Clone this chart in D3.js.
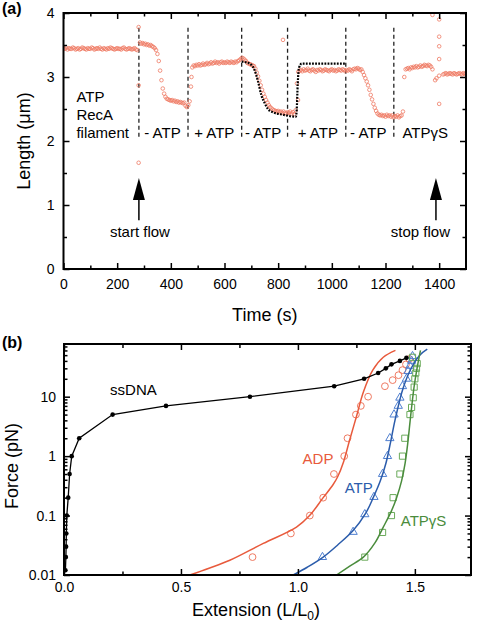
<!DOCTYPE html>
<html><head><meta charset="utf-8">
<script src="https://cdn.jsdelivr.net/npm/d3@7"></script>
<style>
body{margin:0;background:#fff}
text{font-family:"Liberation Sans",Arial,Helvetica,sans-serif}
</style>
</head><body>
<svg id="c" width="477" height="626"></svg>
<script>
// ---------------- Panel (a) data ----------------
const timeStep = 5; // seconds between samples, t = 0 ... 1500
const lengthValues = [
 // 0-245
 3.45,3.44,3.46,3.43,3.45,3.44,3.44,3.46,3.45,3.43,
 3.44,3.45,3.43,3.44,3.46,3.45,3.44,3.43,3.45,3.44,
 3.44,3.46,3.45,3.43,3.44,3.45,3.44,3.46,3.44,3.43,
 3.45,3.44,3.43,3.45,3.44,3.46,3.45,3.44,3.43,3.44,
 3.45,3.44,3.44,3.43,3.45,3.46,3.44,3.43,3.44,3.45,
 // 250-275
 3.44,3.43,3.44,3.45,3.43,3.42,
 // 280
 null,
 // 285-345
 3.54,3.52,3.53,3.51,3.52,3.50,3.51,3.49,3.50,3.48,3.47,3.45,3.42,
 // 350-470
 3.36,3.25,3.10,2.95,2.82,2.74,2.69,2.66,2.65,2.64,2.63,2.64,2.62,2.63,2.61,2.62,2.60,2.61,2.60,2.59,2.60,2.55,2.53,2.56,2.62,
 // 475-480
 2.85,3.15,
 // 485-660
 3.18,3.17,3.19,3.18,3.20,3.18,3.19,3.21,3.19,3.20,
 3.22,3.20,3.21,3.23,3.21,3.22,3.24,3.22,3.23,3.21,
 3.23,3.24,3.22,3.23,3.22,3.24,3.23,3.22,3.24,3.23,
 3.22,3.24,3.23,3.25,3.26,3.28,
 // 665-835
 3.30,3.29,3.27,3.25,3.22,3.21,3.20,3.19,3.18,3.17,
 3.13,3.07,3.01,2.94,2.87,2.80,2.74,2.69,2.64,2.60,
 2.56,2.53,2.51,2.49,2.48,2.47,2.46,2.47,2.45,2.46,
 2.44,2.46,2.44,2.43,2.45,
 // 840-875
 2.44,2.46,2.43,2.45,2.42,2.48,2.90,3.08,
 // 880-1050
 3.10,3.11,3.09,3.12,3.10,3.11,3.13,3.10,3.09,3.11,
 3.12,3.10,3.08,3.11,3.10,3.12,3.11,3.09,3.10,3.12,
 3.11,3.10,3.09,3.11,3.12,3.10,3.11,3.09,3.10,3.12,
 3.11,3.10,3.12,3.11,3.09,
 // 1055-1265
 3.11,3.10,3.12,3.11,3.09,3.12,3.13,3.12,3.14,3.13,
 3.11,3.12,3.08,3.03,2.98,2.93,2.87,2.80,2.72,2.65,
 2.58,2.52,2.47,2.43,2.41,2.40,2.41,2.39,2.40,2.38,
 2.41,2.39,2.40,2.38,2.40,2.37,2.39,2.38,2.40,2.37,
 2.39,2.40,2.46,
 // 1270-1375
 3.00,3.12,3.13,3.14,3.12,3.15,3.14,3.16,3.15,3.17,
 3.15,3.16,3.18,3.16,3.17,3.19,3.18,3.17,3.19,3.18,
 3.16,3.12,
 // 1380-1410
 null,2.95,2.98,null,null,null,null,
 // 1415-1500
 3.04,3.05,3.06,3.04,3.05,3.06,3.05,3.04,3.06,3.05,3.04,3.05,3.06,3.05,3.04,3.06,3.05,3.05
];
const outlierTimes   = [280, 280, 280, 477, 818, 874, 1375, 1400, 1400, 1400, 1400, 1400, 1400];
const outlierLengths = [3.78, 2.87, 1.66, 3.00, 3.58, 2.64, 3.97, 3.90, 3.63, 3.48, 3.28, 3.02, 2.58];

const fitTimes   = [664, 680, 700, 712, 725, 737, 750, 762, 780, 818, 866, 869, 873, 878, 888, 1052];
const fitLengths = [3.24, 3.23, 3.19, 3.11, 2.93, 2.72, 2.59, 2.50, 2.45, 2.41, 2.38, 2.48, 2.90, 3.15, 3.21, 3.21];

const bufferChangeTimes = [281, 464, 664, 835, 1052, 1231];
const bufferLabels = ["- ATP", "+ ATP", "- ATP", "+ ATP", "- ATP", "ATP\u03B3S"];
const filamentLabel = ["ATP", "RecA", "filament"];
const flowEventTimes = [281, 1388];
const flowEventLabels = ["start flow", "stop flow"];

const timeTicks = [0, 200, 400, 600, 800, 1000, 1200, 1400];
const timeMinorTicks = [100, 300, 500, 700, 900, 1100, 1300];
const lengthTicks = [0, 1, 2, 3, 4];
const lengthMinorTicks = [0.5, 1.5, 2.5, 3.5];

// ---------------- Panel (b) data ----------------
const ssdnaExt   = [0.006, 0.008, 0.009, 0.010, 0.012, 0.018, 0.024, 0.033, 0.065, 0.208, 0.436, 0.795, 1.155, 1.283, 1.343, 1.376, 1.400, 1.436, 1.464];
const ssdnaForce = [0.012, 0.02, 0.03, 0.05, 0.1, 0.2, 0.5, 1, 2, 5, 7, 10, 15, 20, 25, 30, 35, 40, 45];

const adpExt   = [0.806, 0.970, 1.051, 1.108, 1.154, 1.198, 1.212, 1.248, 1.269, 1.300, 1.372, 1.405, 1.430, 1.447, 1.462, 1.476];
const adpForce = [0.02, 0.05, 0.1, 0.2, 0.5, 1, 2, 5, 7, 10, 15, 19, 23, 28, 35, 43];
const adpFitExt   = [0.538, 0.62, 0.709, 0.852, 0.994, 1.05, 1.108, 1.15, 1.17, 1.195, 1.22, 1.25, 1.28, 1.32, 1.365, 1.417];
const adpFitForce = [0.01, 0.013, 0.0177, 0.034, 0.064, 0.1, 0.2, 0.33, 0.45, 0.8, 1.8, 4.6, 12, 28, 46, 60];

const atpExt   = [1.105, 1.236, 1.286, 1.325, 1.362, 1.383, 1.393, 1.411, 1.429, 1.436, 1.447, 1.464, 1.471, 1.479, 1.486, 1.490];
const atpForce = [0.02, 0.053, 0.105, 0.205, 0.5, 1, 2, 5, 7, 9.6, 15, 20, 27, 33, 40, 48];
const atpFitExt   = [0.98, 1.04, 1.108, 1.17, 1.236, 1.29, 1.322, 1.352, 1.376, 1.396, 1.415, 1.45, 1.486, 1.521, 1.553];
const atpFitForce = [0.01, 0.0135, 0.02, 0.032, 0.056, 0.11, 0.2, 0.38, 0.75, 1.7, 4, 14, 31, 50, 63];

const atpgsExt   = [1.286, 1.362, 1.400, 1.407, 1.436, 1.447, 1.457, 1.479, 1.486, 1.493, 1.497, 1.500, 1.504, 1.507, 1.510, 1.490];
const atpgsForce = [0.02, 0.052, 0.1, 0.2, 0.5, 1, 2, 5, 6.6, 9.6, 14.5, 20, 25, 30, 36, 46];
const atpgsFitExt   = [1.165, 1.22, 1.28, 1.33, 1.365, 1.40, 1.422, 1.443, 1.458, 1.47, 1.48, 1.496, 1.51, 1.524];
const atpgsFitForce = [0.01, 0.014, 0.02, 0.035, 0.064, 0.12, 0.2, 0.38, 0.75, 1.7, 4, 14, 31, 60];

const extTicks = [0, 0.5, 1.0, 1.5];
const extMinorTicks = [0.25, 0.75, 1.25];
const forceTicks = [0.01, 0.1, 1, 10];
const forceMinorTicks = [0.02,0.03,0.04,0.05,0.06,0.07,0.08,0.09,0.2,0.3,0.4,0.5,0.6,0.7,0.8,0.9,2,3,4,5,6,7,8,9,20,30,40,50,60,70];

// ---------------- Drawing ----------------
const svg = d3.select("#c");
const RED = "#e85a3c", RED_M = "#ef7a62";
const BLUE = "#2b5cab", BLUE_M = "#4f7fd0";
const GREEN = "#4a8c3c", GREEN_M = "#6aaa5a";
const PT = "#ef7c66";

function styleAxis(g, fs) {
  g.select(".domain").remove();
  g.selectAll(".tick line").attr("stroke", "#000").attr("stroke-width", 1.5);
  g.selectAll(".tick text").attr("fill", "#000").style("font-size", fs + "px")
    .style("font-family", '"Liberation Sans",Arial,sans-serif');
}

// ===== Panel (a) =====
const A = {l: 63.5, r: 466, t: 13, b: 269};
const xa = d3.scaleLinear().domain([0, 1500]).range([A.l, A.r]);
const ya = d3.scaleLinear().domain([0, 4]).range([A.b, A.t]);

const defs = svg.append("defs");
defs.append("clipPath").attr("id", "clipA").append("rect")
  .attr("x", A.l).attr("y", A.t - 3).attr("width", A.r - A.l).attr("height", A.b - A.t + 3);

const ga = svg.append("g");

// dashed buffer change lines
ga.selectAll("line.buf").data(bufferChangeTimes).join("line")
  .attr("x1", d => xa(d)).attr("x2", d => xa(d))
  .attr("y1", ya(3.77)).attr("y2", ya(2.02))
  .attr("stroke", "#222").attr("stroke-width", 1.3).attr("stroke-dasharray", "4,3");

// data points
const pts = lengthValues.map((v, i) => ({t: i * timeStep, v})).filter(d => d.v !== null);
const outs = outlierTimes.map((t, i) => ({t, v: outlierLengths[i]}));
const gp = ga.append("g").attr("clip-path", "url(#clipA)");
gp.selectAll("circle.p").data(pts.concat(outs)).join("circle")
  .attr("cx", d => xa(d.t)).attr("cy", d => ya(d.v)).attr("r", 1.8)
  .attr("fill", "none").attr("stroke", PT).attr("stroke-width", 0.9).attr("opacity", 0.9);

// dotted fit
const fitLine = d3.line().x(d => xa(d[0])).y(d => ya(d[1])).curve(d3.curveMonotoneX);
gp.append("path").datum(fitTimes.map((t, i) => [t, fitLengths[i]]))
  .attr("d", fitLine).attr("fill", "none").attr("stroke", "#000")
  .attr("stroke-width", 2.2).attr("stroke-dasharray", "1.8,1.3");

// axes
const axA = ga.append("g");
const gb1 = axA.append("g").attr("transform", `translate(0,${A.b})`)
  .call(d3.axisBottom(xa).tickValues(timeTicks).tickSize(-6).tickPadding(10).tickFormat(d3.format("d")));
styleAxis(gb1, 14);
const gb2 = axA.append("g").attr("transform", `translate(0,${A.b})`)
  .call(d3.axisBottom(xa).tickValues(timeMinorTicks).tickSize(-3.5).tickFormat(""));
styleAxis(gb2, 14);
const gt1 = axA.append("g").attr("transform", `translate(0,${A.t})`)
  .call(d3.axisTop(xa).tickValues(timeTicks).tickSize(-6).tickFormat(""));
styleAxis(gt1, 14);
const gt2 = axA.append("g").attr("transform", `translate(0,${A.t})`)
  .call(d3.axisTop(xa).tickValues(timeMinorTicks).tickSize(-3.5).tickFormat(""));
styleAxis(gt2, 14);
const gl1 = axA.append("g").attr("transform", `translate(${A.l},0)`)
  .call(d3.axisLeft(ya).tickValues(lengthTicks).tickSize(-6).tickPadding(9).tickFormat(d3.format("d")));
styleAxis(gl1, 14);
const gl2 = axA.append("g").attr("transform", `translate(${A.l},0)`)
  .call(d3.axisLeft(ya).tickValues(lengthMinorTicks).tickSize(-3.5).tickFormat(""));
styleAxis(gl2, 14);
const gr1 = axA.append("g").attr("transform", `translate(${A.r},0)`)
  .call(d3.axisRight(ya).tickValues(lengthTicks).tickSize(-6).tickFormat(""));
styleAxis(gr1, 14);
const gr2 = axA.append("g").attr("transform", `translate(${A.r},0)`)
  .call(d3.axisRight(ya).tickValues(lengthMinorTicks).tickSize(-3.5).tickFormat(""));
styleAxis(gr2, 14);

ga.append("rect").attr("x", A.l).attr("y", A.t).attr("width", A.r - A.l).attr("height", A.b - A.t)
  .attr("fill", "none").attr("stroke", "#000").attr("stroke-width", 2);

// labels panel a
ga.append("text").attr("x", 2).attr("y", 14).style("font-size", "16px").style("font-weight", "bold").text("(a)");
ga.append("text").attr("x", (A.l + A.r) / 2).attr("y", 321).attr("text-anchor", "middle")
  .style("font-size", "18px").text("Time (s)");
ga.append("text").attr("transform", `translate(30,${(A.t + A.b) / 2}) rotate(-90)`).attr("text-anchor", "middle")
  .style("font-size", "18px").text("Length (\u03BCm)");

const filY = [2.61, 2.33, 2.04];
ga.selectAll("text.fil").data(filamentLabel).join("text")
  .attr("x", xa(48)).attr("y", (d, i) => ya(filY[i])).style("font-size", "15px").text(d => d);
const bufLabelT = [301, 487, 676, 873, 1068, 1263];
ga.selectAll("text.buf").data(bufferLabels).join("text")
  .attr("x", (d, i) => xa(bufLabelT[i])).attr("y", ya(2.04)).style("font-size", "15px").text(d => d);

// flow arrows
flowEventTimes.forEach((t, i) => {
  const x = xa(t);
  ga.append("path").attr("d", `M${x},${ya(1.42)} L${x - 6},${ya(1.08)} L${x + 6},${ya(1.08)} Z`).attr("fill", "#000");
  ga.append("line").attr("x1", x).attr("x2", x).attr("y1", ya(1.1)).attr("y2", ya(0.76))
    .attr("stroke", "#000").attr("stroke-width", 1.5);
});
ga.append("text").attr("x", xa(flowEventTimes[0]) + 1).attr("y", ya(0.5)).attr("text-anchor", "middle")
  .style("font-size", "15px").text(flowEventLabels[0]);
ga.append("text").attr("x", 450).attr("y", ya(0.5)).attr("text-anchor", "end")
  .style("font-size", "15px").text(flowEventLabels[1]);

// ===== Panel (b) =====
const B = {l: 64, r: 471, t: 344, b: 575};
const xb = d3.scaleLinear().domain([0, 1.74]).range([B.l, B.r]);
const yb = d3.scaleLog().domain([0.01, 77]).range([B.b, B.t]);

defs.append("clipPath").attr("id", "clipB").append("rect")
  .attr("x", B.l).attr("y", B.t).attr("width", B.r - B.l).attr("height", B.b - B.t);

const gB = svg.append("g");
const gc = gB.append("g").attr("clip-path", "url(#clipB)");
const lineB = d3.line().x(d => xb(d[0])).y(d => yb(d[1])).curve(d3.curveCatmullRom.alpha(0.5));
const zip = (a, b) => a.map((v, i) => [v, b[i]]);

// markers
gc.selectAll("circle.adp").data(zip(adpExt, adpForce)).join("circle")
  .attr("cx", d => xb(d[0])).attr("cy", d => yb(d[1])).attr("r", 3.4)
  .attr("fill", "none").attr("stroke", RED_M).attr("stroke-width", 1);
const tri = d3.symbol().type(d3.symbolTriangle).size(30);
gc.selectAll("path.atp").data(zip(atpExt, atpForce)).join("path")
  .attr("transform", d => `translate(${xb(d[0])},${yb(d[1])})`).attr("d", tri)
  .attr("fill", "none").attr("stroke", BLUE_M).attr("stroke-width", 1);
const sq = d3.symbol().type(d3.symbolSquare).size(38);
gc.selectAll("path.gs").data(zip(atpgsExt, atpgsForce)).join("path")
  .attr("transform", d => `translate(${xb(d[0])},${yb(d[1])})`).attr("d", sq)
  .attr("fill", "none").attr("stroke", GREEN_M).attr("stroke-width", 1);

// fits
gc.append("path").datum(zip(adpFitExt, adpFitForce)).attr("d", lineB)
  .attr("fill", "none").attr("stroke", RED).attr("stroke-width", 1.5);
gc.append("path").datum(zip(atpFitExt, atpFitForce)).attr("d", lineB)
  .attr("fill", "none").attr("stroke", BLUE).attr("stroke-width", 1.5);
gc.append("path").datum(zip(atpgsFitExt, atpgsFitForce)).attr("d", lineB)
  .attr("fill", "none").attr("stroke", GREEN).attr("stroke-width", 1.5);

// ssDNA
gc.append("path").datum(zip(ssdnaExt, ssdnaForce)).attr("d", d3.line().x(d => xb(d[0])).y(d => yb(d[1])))
  .attr("fill", "none").attr("stroke", "#000").attr("stroke-width", 1.3);
gc.selectAll("circle.ss").data(zip(ssdnaExt, ssdnaForce)).join("circle")
  .attr("cx", d => xb(d[0])).attr("cy", d => yb(d[1])).attr("r", 2.3).attr("fill", "#000");

// axes b
const axB = gB.append("g");
const bb1 = axB.append("g").attr("transform", `translate(0,${B.b})`)
  .call(d3.axisBottom(xb).tickValues(extTicks).tickSize(-6).tickPadding(7).tickFormat(d3.format(".1f")));
styleAxis(bb1, 14);
const bb2 = axB.append("g").attr("transform", `translate(0,${B.b})`)
  .call(d3.axisBottom(xb).tickValues(extMinorTicks).tickSize(-3.5).tickFormat(""));
styleAxis(bb2, 14);
const bt1 = axB.append("g").attr("transform", `translate(0,${B.t})`)
  .call(d3.axisTop(xb).tickValues(extTicks).tickSize(-6).tickFormat(""));
styleAxis(bt1, 14);
const bt2 = axB.append("g").attr("transform", `translate(0,${B.t})`)
  .call(d3.axisTop(xb).tickValues(extMinorTicks).tickSize(-4).tickFormat(""));
styleAxis(bt2, 14);
const bl1 = axB.append("g").attr("transform", `translate(${B.l},0)`)
  .call(d3.axisLeft(yb).tickValues(forceTicks).tickSize(-6).tickPadding(8).tickFormat(d => String(d)));
styleAxis(bl1, 14);
const bl2 = axB.append("g").attr("transform", `translate(${B.l},0)`)
  .call(d3.axisLeft(yb).tickValues(forceMinorTicks).tickSize(-3.5).tickFormat(""));
styleAxis(bl2, 14);
const br1 = axB.append("g").attr("transform", `translate(${B.r},0)`)
  .call(d3.axisRight(yb).tickValues(forceTicks).tickSize(-6).tickFormat(""));
styleAxis(br1, 14);
const br2 = axB.append("g").attr("transform", `translate(${B.r},0)`)
  .call(d3.axisRight(yb).tickValues(forceMinorTicks).tickSize(-3.5).tickFormat(""));
styleAxis(br2, 14);

gB.append("rect").attr("x", B.l).attr("y", B.t).attr("width", B.r - B.l).attr("height", B.b - B.t)
  .attr("fill", "none").attr("stroke", "#000").attr("stroke-width", 2);

gB.append("text").attr("x", 2).attr("y", 348).style("font-size", "16px").style("font-weight", "bold").text("(b)");
const xl = gB.append("text").attr("x", 256).attr("y", 616).attr("text-anchor", "middle").style("font-size", "18px");
xl.append("tspan").text("Extension (L/L");
xl.append("tspan").attr("dy", 4).style("font-size", "12px").text("0");
xl.append("tspan").attr("dy", -4).text(")");
gB.append("text").attr("transform", `translate(18,466) rotate(-90)`).attr("text-anchor", "middle")
  .style("font-size", "18px").text("Force (pN)");

gB.append("text").attr("x", xb(0.197)).attr("y", yb(10.5)).style("font-size", "15px").attr("fill", "#000").text("ssDNA");
gB.append("text").attr("x", xb(1.02)).attr("y", yb(0.73)).style("font-size", "15px").attr("fill", RED).text("ADP");
gB.append("text").attr("x", xb(1.20)).attr("y", yb(0.243)).style("font-size", "15px").attr("fill", BLUE).text("ATP");
gB.append("text").attr("x", xb(1.44)).attr("y", yb(0.066)).style("font-size", "15px").attr("fill", GREEN).text("ATP\u03B3S");
</script>
</body></html>
